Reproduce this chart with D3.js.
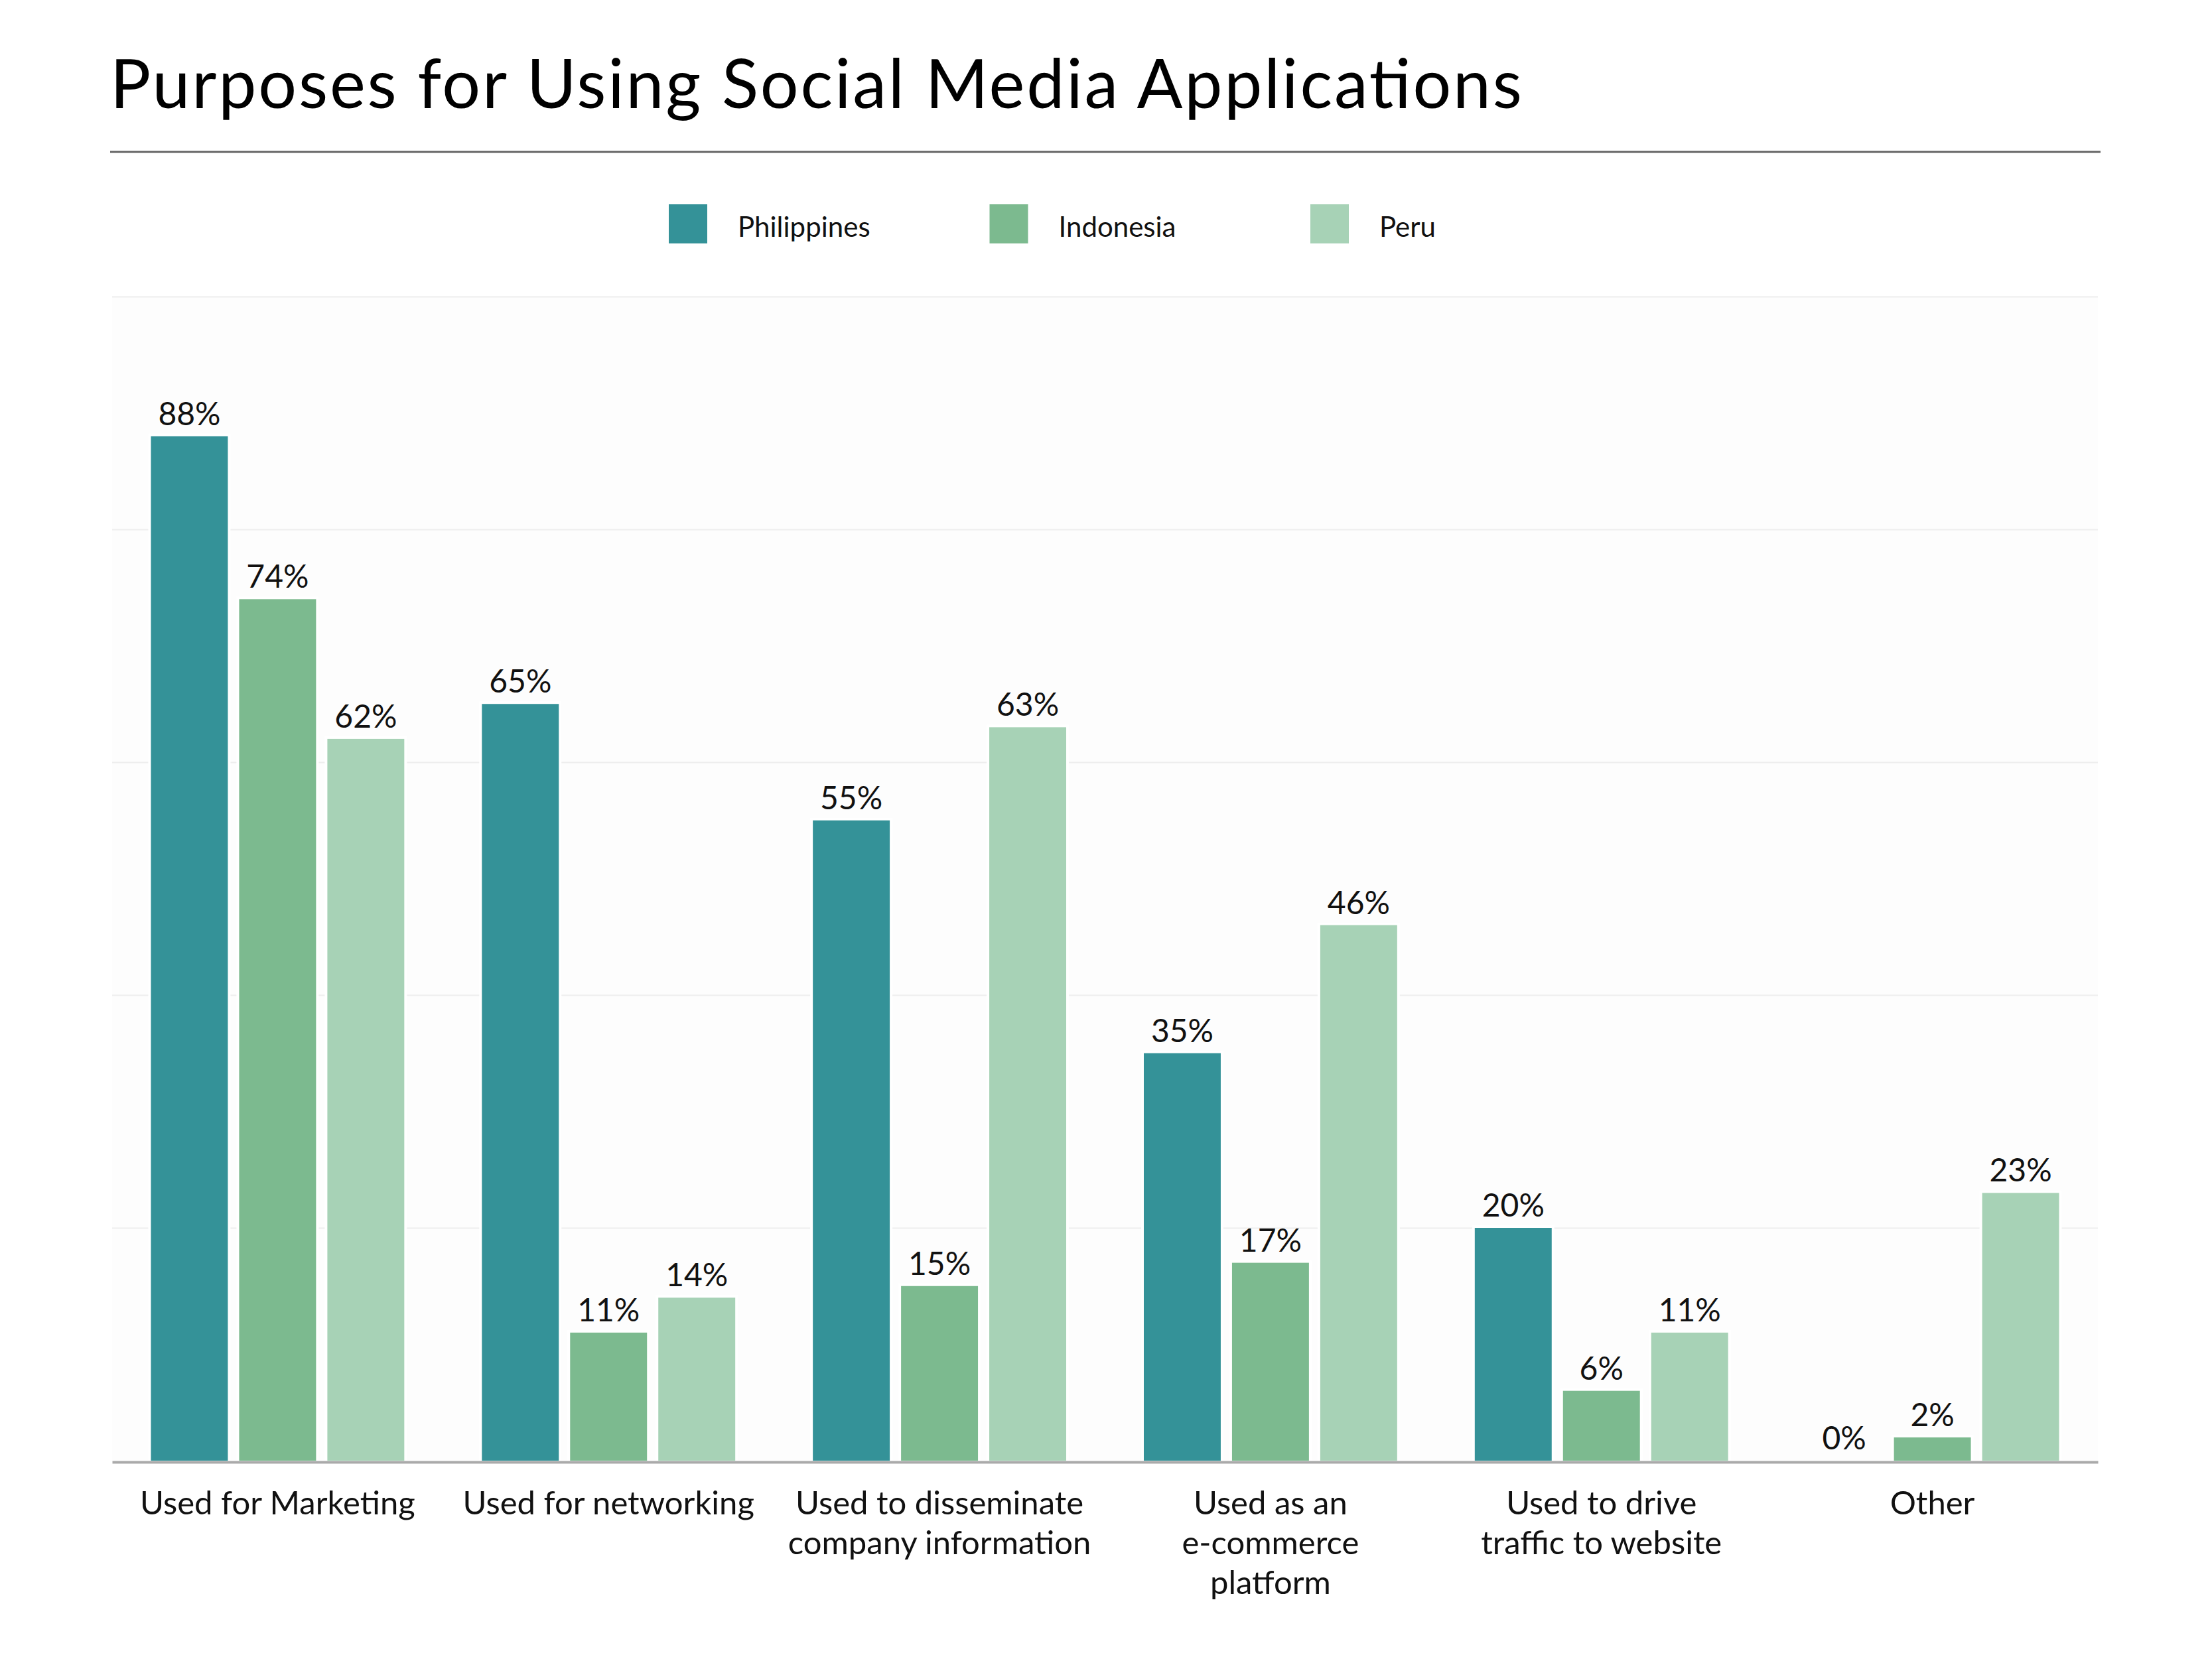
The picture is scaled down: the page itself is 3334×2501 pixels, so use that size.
<!DOCTYPE html>
<html><head><meta charset="utf-8">
<script src="https://cdn.jsdelivr.net/npm/d3@7"></script>
<style>body{margin:0;background:#fff;} svg{display:block;} text{font-family:Lato,"Noto Sans",sans-serif;}</style>
</head><body><svg id="chart" width="3334" height="2501"></svg>
<script>
const title = "Purposes for Using Social Media Applications";
const categories = ["Used for Marketing","Used for networking","Used to disseminate company information","Used as an e-commerce platform","Used to drive traffic to website","Other"];
const categoryLines = [["Used for Marketing"],["Used for networking"],["Used to disseminate","company information"],["Used as an","e-commerce","platform"],["Used to drive","traffic to website"],["Other"]];
const seriesNames = ["Philippines","Indonesia","Peru"];
const philippines = [88,65,55,35,20,0];
const indonesia = [74,11,15,17,6,2];
const peru = [62,14,63,46,11,23];
const seriesColors = ["#349298","#7cba8f","#a7d2b6"];
const yTicks = [20,40,60,80,100];

const seriesValues = [philippines, indonesia, peru];
const W = 3334, H = 2501;
const mLeft = 169, mRight = 3162, mTop = 447, mBottom = 2202;
const svg = d3.select("#chart");

svg.append("rect").attr("width", W).attr("height", H).attr("fill", "#fff");

// title
svg.append("text").attr("x", 166).attr("y", 163).attr("font-size", 102).attr("fill", "#000")
  .attr("textLength", 2128).attr("lengthAdjust", "spacing").text(title);
svg.append("line").attr("x1", 166).attr("x2", 3166).attr("y1", 229).attr("y2", 229).attr("stroke", "#666").attr("stroke-width", 3);

// legend
const legendX = d3.scalePoint().domain(seriesNames).range([1008, 1975]);
const leg = svg.append("g").selectAll("g").data(seriesNames).join("g")
  .attr("transform", d => `translate(${legendX(d)},308)`);
leg.append("rect").attr("width", 58).attr("height", 59).attr("fill", (d, i) => seriesColors[i]);
leg.append("text").attr("x", 104).attr("y", 49).attr("font-size", 42).attr("fill", "#111").text(d => d);

// scales
const x0 = d3.scaleBand().domain(categories).range([mLeft, mRight]).paddingInner(0.2345).paddingOuter(0.11725);
const x1 = d3.scaleBand().domain(seriesNames).range([0, x0.bandwidth()]).paddingInner(0.128);
const y = d3.scaleLinear().domain([0, 100]).range([mBottom, mTop]);

// plot background
svg.append("rect").attr("x", mLeft).attr("y", mTop).attr("width", mRight - mLeft).attr("height", mBottom - mTop).attr("fill", "#fdfdfd");

// gridlines
svg.append("g").attr("transform", `translate(${mLeft},0)`)
  .call(d3.axisLeft(y).tickValues(yTicks).tickSize(-(mRight - mLeft)).tickFormat(""))
  .call(g => g.select(".domain").remove())
  .call(g => g.selectAll(".tick line").attr("stroke", "#eeeeee").attr("stroke-width", 2));

const data = [];
categories.forEach((c, ci) => seriesNames.forEach((s, si) => data.push({c, s, si, v: seriesValues[si][ci]})));

const groups = svg.append("g");
groups.selectAll("rect.halo").data(data.filter(d => d.v > 0)).join("rect").attr("class", "halo")
  .attr("x", d => x0(d.c) + x1(d.s) - 4).attr("width", x1.bandwidth() + 8)
  .attr("y", d => y(d.v) - 4).attr("height", d => mBottom - y(d.v) + 4).attr("fill", "#fff");
groups.selectAll("rect.bar").data(data).join("rect").attr("class", "bar")
  .attr("x", d => x0(d.c) + x1(d.s)).attr("width", x1.bandwidth())
  .attr("y", d => y(d.v)).attr("height", d => mBottom - y(d.v)).attr("fill", d => seriesColors[d.si]);
groups.selectAll("text.val").data(data).join("text").attr("class", "val")
  .attr("x", d => x0(d.c) + x1(d.s) + x1.bandwidth() / 2).attr("y", d => y(d.v) - 17)
  .attr("text-anchor", "middle").attr("font-size", 48).attr("fill", "#111").text(d => d.v + "%");

// x axis
svg.append("g").attr("transform", `translate(0,${mBottom + 2})`)
  .call(d3.axisBottom(x0).tickSize(0).tickFormat(""))
  .call(g => g.select(".domain").attr("stroke", "#aaaaaa").attr("stroke-width", 4))
  .call(g => g.selectAll(".tick").each(function(d, i) {
    const t = d3.select(this).append("text").attr("text-anchor", "middle").attr("font-size", 49).attr("fill", "#111");
    categoryLines[i].forEach((ln, li) => t.append("tspan").attr("x", 0).attr("y", 79 + li * 60).text(ln));
  }));
</script></body></html>
